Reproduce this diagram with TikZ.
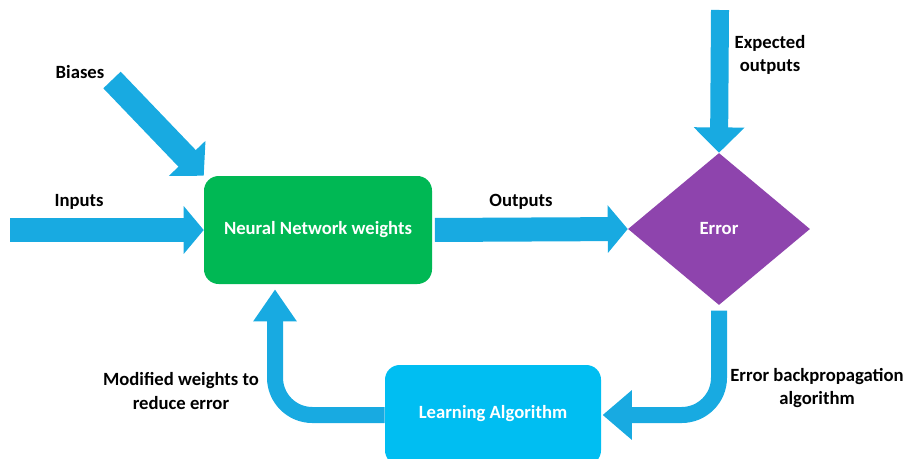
\documentclass[tikz,border=0pt]{standalone}
\usepackage{fontspec}
\setmainfont{Carlito}
\usetikzlibrary{arrows.meta, shapes.geometric}
\definecolor{flowblue}{RGB}{24,170,225}
\definecolor{netgreen}{RGB}{0,184,84}
\definecolor{errpurple}{RGB}{142,68,173}
\definecolor{learnblue}{RGB}{0,190,242}

\begin{document}
\begin{tikzpicture}[x=0.75pt, y=-0.75pt, font=\fontsize{14}{17.5}\selectfont\bfseries,
    box/.style={rounded corners=11pt, text=white, inner sep=0pt},
    flow/.style={draw=flowblue, line width=18pt, -{Triangle[width=35pt, length=15pt]}},
    feed/.style={draw=flowblue, line width=13.5pt, -{Triangle[width=37pt, length=19pt]}},
    loop/.style={draw=flowblue, line width=12pt, rounded corners=28pt, -{Triangle[width=36pt, length=22pt]}},
    lbl/.style={align=center, text=black}]
    \useasboundingbox (0,0) rectangle (909,458);
    \clip (0,0) rectangle (909,458);

    % blocks
    \node[box, fill=netgreen, minimum width=171pt, minimum height=81pt] (net) at (318,230) {Neural Network weights};
    \node[diamond, fill=errpurple, text=white, inner sep=0pt, minimum width=136.5pt, minimum height=114pt] (err) at (719,229) {Error};
    \node[box, fill=learnblue, minimum width=162pt, minimum height=75pt] (learn) at (493,415) {};
    \node[text=white] (learntxt) at (493,414) {Learning Algorithm};

    % free ends
    \coordinate (inp) at (10,230);
    \coordinate (bia) at (112,80);
    \coordinate (exp) at (720,10);
    \coordinate (back) at (275,284);

    % arrows
    \draw[flow] (inp) -- (net.west);
    \draw[flow, -{Triangle[width=37pt, length=18pt]}] (bia) -- (net.north west);
    \draw[flow, shorten <=2pt] (net.east) -- (err.west);
    \draw[feed] (exp) -- (err.north);
    \draw[loop, shorten <=4pt, shorten >=1pt] (err.south) -- (err.south |- learn.east) -- (learn.east);
    \draw[loop, -{Triangle[width=31pt, length=24pt]}, shorten >=4pt] (learn.west) -| (back);

    % labels
    \node[lbl] (bialbl) at (80,72) {Biases};
    \node[lbl] (inplbl) at (79,202) {Inputs};
    \node[lbl] (outlbl) at (521,202) {Outputs};
    \node[lbl] (explbl) at (770,55) {Expected\\outputs};
    \node[lbl] (modlbl) at (181,391) {Modified weights to\\reduce error};
    \node[lbl] (bplbl) at (817,388) {Error backpropagation\\algorithm};
\end{tikzpicture}
\end{document}
